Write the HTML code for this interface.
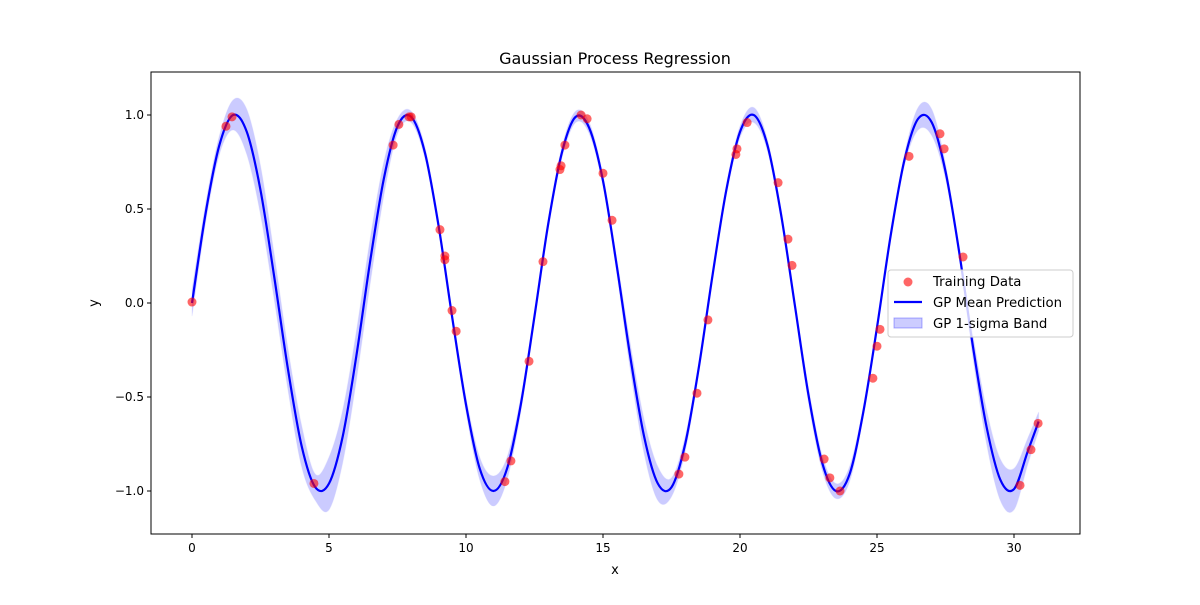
<!DOCTYPE html>
<html><head><meta charset="utf-8"><style>
body{margin:0;background:#fff;font-family:"Liberation Sans","DejaVu Sans",sans-serif}
svg text{font-family:"DejaVu Sans","Liberation Sans",sans-serif}
</style></head><body>
<svg id="c" width="1200" height="600" xmlns="http://www.w3.org/2000/svg"></svg>
<script>
const gridX=[0,0.5,1,1.5,2,2.5,3,3.5,4,4.5,5,5.5,6,6.5,7,7.5,8,8.5,9,9.5,10,10.5,11,11.5,12,12.5,13,13.5,14,14.5,15,15.5,16,16.5,17,17.5,18,18.5,19,19.5,20,20.5,21,21.5,22,22.5,23,23.5,24,24.5,25,25.5,26,26.5,27,27.5,28,28.5,29,29.5,30,30.5,30.9];
const meanY=[0,.48,.84,1.0,.91,.60,.14,-.35,-.76,-.98,-.96,-.71,-.28,.22,.66,.94,.99,.80,.41,-.08,-.54,-.88,-1.0,-.88,-.54,-.07,.42,.80,.99,.93,.65,.20,-.29,-.71,-.96,-.98,-.75,-.34,.15,.60,.91,1.0,.84,.47,-.01,-.49,-.85,-1.0,-.91,-.58,-.13,.36,.76,.98,.96,.70,.27,-.23,-.66,-.94,-.99,-.79,-.63];
const stdY=[.07,.05,.05,.08,.12,.13,.12,.11,.11,.07,.14,.14,.13,.12,.09,.04,.03,.03,.03,.03,.04,.06,.08,.06,.04,.03,.03,.03,.03,.03,.03,.04,.07,.09,.09,.05,.04,.03,.03,.03,.03,.04,.03,.03,.03,.04,.04,.04,.04,.03,.03,.03,.03,.06,.07,.04,.03,.06,.09,.11,.11,.07,.05];
const trainX=[0,1.24,1.46,4.45,7.34,7.55,7.92,8.0,9.05,9.23,9.23,9.49,9.64,11.42,11.64,12.3,12.81,13.43,13.47,13.61,14.2,14.42,15.0,15.33,17.77,17.99,18.43,18.83,19.85,19.89,20.26,21.39,21.75,21.9,23.07,23.28,23.65,24.85,25.0,25.11,26.17,27.3,27.45,28.14,30.22,30.62,30.88];
const trainY=[0.005,0.94,0.99,-0.96,0.84,0.95,0.99,0.99,0.39,0.25,0.23,-0.04,-0.15,-0.95,-0.84,-0.31,0.22,0.71,0.73,0.84,1.0,0.98,0.69,0.44,-0.91,-0.82,-0.48,-0.09,0.79,0.82,0.96,0.64,0.34,0.2,-0.83,-0.93,-1.0,-0.40,-0.23,-0.14,0.78,0.90,0.82,0.245,-0.97,-0.78,-0.64];
const xTicks=[0,5,10,15,20,25,30];
const yTicks=[-1.0,-0.5,0.0,0.5,1.0];
const NS="http://www.w3.org/2000/svg",svg=document.getElementById('c');
const L=151,R=1080,T=72,B=534;
const sx=v=>192+v*27.4, sy=v=>303-v*188;
function mk(t,a,p){const e=document.createElementNS(NS,t);for(const k in a)e.setAttribute(k,a[k]);(p||svg).appendChild(e);return e;}
function smooth(pts){let d=`M${pts[0][0]},${pts[0][1]}`;for(let i=0;i<pts.length-1;i++){const p0=pts[Math.max(0,i-1)],p1=pts[i],p2=pts[i+1],p3=pts[Math.min(pts.length-1,i+2)];d+=` C${p1[0]+(p2[0]-p0[0])/6},${p1[1]+(p2[1]-p0[1])/6} ${p2[0]-(p3[0]-p1[0])/6},${p2[1]-(p3[1]-p1[1])/6} ${p2[0]},${p2[1]}`;}return d;}
const up=gridX.map((x,i)=>[sx(x),sy(meanY[i]+stdY[i])]);
const lo=gridX.map((x,i)=>[sx(x),sy(meanY[i]-stdY[i])]).reverse();
let bd=smooth(up)+' L'+smooth(lo).slice(1)+' Z';
const band=mk('path',{d:bd,fill:'#0000ff',opacity:0.2,stroke:'#0000ff','stroke-opacity':0.3});

const ml=mk('path',{d:smooth(gridX.map((x,i)=>[sx(x),sy(meanY[i])])),fill:'none',stroke:'#0000ff','stroke-width':2.2});

trainX.forEach((x,i)=>{const c=mk('circle',{cx:sx(x),cy:sy(trainY[i]),r:4.5,fill:'#ff0000','fill-opacity':0.6});

});
const fr=mk('rect',{x:L,y:T,width:R-L,height:B-T,fill:'none',stroke:'#000','stroke-width':1});

xTicks.forEach(v=>{mk('line',{x1:sx(v),x2:sx(v),y1:B,y2:B+4,stroke:'#000'});const t=mk('text',{x:sx(v),y:B+18,'text-anchor':'middle','font-size':12});t.textContent=v;
});
yTicks.forEach(v=>{mk('line',{x1:L-4,x2:L,y1:sy(v),y2:sy(v),stroke:'#000'});const t=mk('text',{x:L-7,y:sy(v)+4,'text-anchor':'end','font-size':12});t.textContent=v<0?'−'+Math.abs(v).toFixed(1):v.toFixed(1);
});
let t=mk('text',{x:615,y:64,'text-anchor':'middle','font-size':16});t.textContent='Gaussian Process Regression';
t=mk('text',{x:615,y:574,'text-anchor':'middle','font-size':13});t.textContent='x';
t=mk('text',{x:98,y:303,'text-anchor':'middle','font-size':13,transform:'rotate(-90 98 303)'});t.textContent='y';
const lg=mk('g',{});
mk('rect',{x:888,y:270,width:185,height:67,rx:3,fill:'#fff','fill-opacity':0.8,stroke:'#ccc'},lg);
mk('circle',{cx:908,cy:282,r:4.5,fill:'#ff0000','fill-opacity':0.6},lg);
mk('line',{x1:894,x2:922,y1:302,y2:302,stroke:'#0000ff','stroke-width':2.2},lg);
mk('rect',{x:894,y:318,width:28,height:10,fill:'#0000ff','fill-opacity':0.2,stroke:'#0000ff','stroke-opacity':0.3},lg);
[['Training Data',286],['GP Mean Prediction',307],['GP 1-sigma Band',328]].forEach(([s,y])=>{const e=mk('text',{x:933,y:y,'font-size':13.3},lg);e.textContent=s;
});
</script></body></html>
